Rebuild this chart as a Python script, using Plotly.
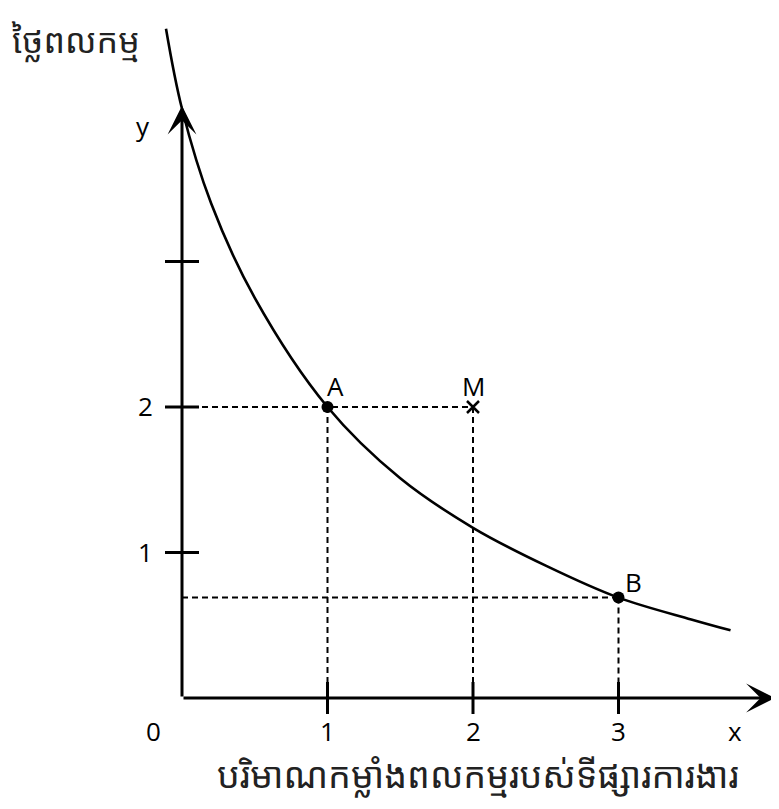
import plotly.graph_objects as go

# ---- data ----
curve_x = [-0.11, 0.0, 0.2, 0.5, 1.0, 1.5, 2.0, 2.5, 3.0, 3.5, 3.77]
curve_y = [4.60, 4.05, 3.40, 2.75, 2.00, 1.51, 1.17, 0.91, 0.69, 0.54, 0.465]

point_names = ["A", "B"]
point_x = [1, 3]
point_y = [2, 0.69]

m_name = "M"
m_x = 2
m_y = 2

x_ticks = [1, 2, 3]
x_tick_labels = ["1", "2", "3"]
y_ticks = [1, 2, 3]
y_tick_labels = ["1", "2", ""]

x_axis_end = 4.075
y_axis_end = 4.07

y_title = "ថ្លៃពលកម្ម"
x_title = "បរិមាណកម្លាំងពលកម្មរបស់ទីផ្សារការងារ"

# ---- figure geometry (page body has an 8px margin) ----
OFF = 8
WIN_W, WIN_H = 779, 809
W, H = WIN_W - OFF, WIN_H - OFF
ox, oy, unit = 182 - OFF, 698 - OFF, 145.5
xr = [-ox / unit, (W - ox) / unit]
yr = [(oy - H) / unit, oy / unit]


def paper_x(px):
    return (px - OFF) / W


def paper_y(py):
    return 1 - (py - OFF) / H


font_lat = dict(family="Open Sans, Noto Sans, sans-serif", size=26, color="black")
font_km_top = dict(family="Noto Sans Khmer, Khmer OS, Noto Sans, sans-serif", size=34, color="#222")
font_km_bot = dict(family="Noto Sans Khmer, Khmer OS, Noto Sans, sans-serif", size=36, color="#222")

fig = go.Figure()

dash_style = dict(color="black", width=2, dash="6px,4px")

# dashed guide lines
ax_pt, ay_pt = point_x[0], point_y[0]
bx_pt, by_pt = point_x[1], point_y[1]
fig.add_trace(go.Scatter(x=[0, m_x], y=[ay_pt, m_y], mode="lines", line=dash_style, hoverinfo="skip"))
fig.add_trace(go.Scatter(x=[ax_pt, ax_pt], y=[ay_pt, 0], mode="lines", line=dash_style, hoverinfo="skip"))
fig.add_trace(go.Scatter(x=[m_x, m_x], y=[m_y, 0], mode="lines", line=dash_style, hoverinfo="skip"))
fig.add_trace(go.Scatter(x=[0, bx_pt], y=[by_pt, by_pt], mode="lines", line=dash_style, hoverinfo="skip"))
fig.add_trace(go.Scatter(x=[bx_pt, bx_pt], y=[by_pt, 0], mode="lines", line=dash_style, hoverinfo="skip"))

# curve
fig.add_trace(go.Scatter(x=curve_x, y=curve_y, mode="lines",
                         line=dict(color="black", width=2.6, shape="spline", smoothing=1.0),
                         hoverinfo="skip"))

# points
fig.add_trace(go.Scatter(x=point_x, y=point_y, mode="markers",
                         marker=dict(color="black", size=12), hoverinfo="skip"))
fig.add_trace(go.Scatter(x=[m_x], y=[m_y], mode="markers",
                         marker=dict(symbol="x-thin", size=12, line=dict(color="black", width=2.5)),
                         hoverinfo="skip"))

# axes with arrows
fig.add_annotation(x=x_axis_end, y=0, ax=0, ay=0, xref="x", yref="y", axref="x", ayref="y",
                   text="", showarrow=True, arrowhead=3, arrowsize=1.6, arrowwidth=3, arrowcolor="black")
fig.add_annotation(x=0, y=y_axis_end, ax=0, ay=0, xref="x", yref="y", axref="x", ayref="y",
                   text="", showarrow=True, arrowhead=3, arrowsize=1.6, arrowwidth=3, arrowcolor="black")

# tick marks
for t in x_ticks:
    fig.add_shape(type="line", xref="x", yref="y", ysizemode="pixel", yanchor=0,
                  x0=t, x1=t, y0=-16, y1=16, line=dict(color="black", width=3))
for t in y_ticks:
    fig.add_shape(type="line", xref="x", yref="y", xsizemode="pixel", xanchor=0,
                  x0=-17, x1=17, y0=t, y1=t, line=dict(color="black", width=3))

# tick labels
for t, lab in zip(x_ticks, x_tick_labels):
    fig.add_annotation(x=t, y=0, xref="x", yref="y", text=lab, showarrow=False,
                       yshift=-33, font=font_lat)
fig.add_annotation(x=0, y=0, xref="x", yref="y", text="0", showarrow=False,
                   xshift=-29, yshift=-33, font=font_lat)
fig.add_annotation(x=x_axis_end, y=0, xref="x", yref="y", text="x", showarrow=False,
                   xshift=-40, yshift=-33, font=font_lat)
for t, lab in zip(y_ticks, y_tick_labels):
    if lab:
        fig.add_annotation(x=0, y=t, xref="x", yref="y", text=lab, showarrow=False,
                           xshift=-37, yshift=1, font=font_lat)
fig.add_annotation(x=0, y=y_axis_end, xref="x", yref="y", text="y", showarrow=False,
                   xshift=-39, yshift=-20, font=font_lat)

# point labels
fig.add_annotation(x=point_x[0], y=point_y[0], text=point_names[0], showarrow=False,
                   xshift=8, yshift=21, font=font_lat)
fig.add_annotation(x=point_x[1], y=point_y[1], text=point_names[1], showarrow=False,
                   xshift=15, yshift=16, font=font_lat)
fig.add_annotation(x=m_x, y=m_y, text=m_name, showarrow=False,
                   xshift=0, yshift=21, font=font_lat)

# titles (pixel positions in the window)
fig.add_annotation(x=paper_x(76), y=paper_y(40), xref="paper", yref="paper",
                   xanchor="center", yanchor="middle",
                   text=y_title, showarrow=False, font=font_km_top)
fig.add_annotation(x=paper_x(478), y=paper_y(774), xref="paper", yref="paper",
                   xanchor="center", yanchor="middle",
                   text=x_title, showarrow=False, font=font_km_bot)

fig.update_layout(
    width=W, height=H,
    margin=dict(l=0, r=0, t=0, b=0),
    paper_bgcolor="white", plot_bgcolor="white",
    showlegend=False,
    xaxis=dict(range=xr, visible=False, fixedrange=True),
    yaxis=dict(range=yr, visible=False, fixedrange=True),
)

fig.write_html("out.html")
